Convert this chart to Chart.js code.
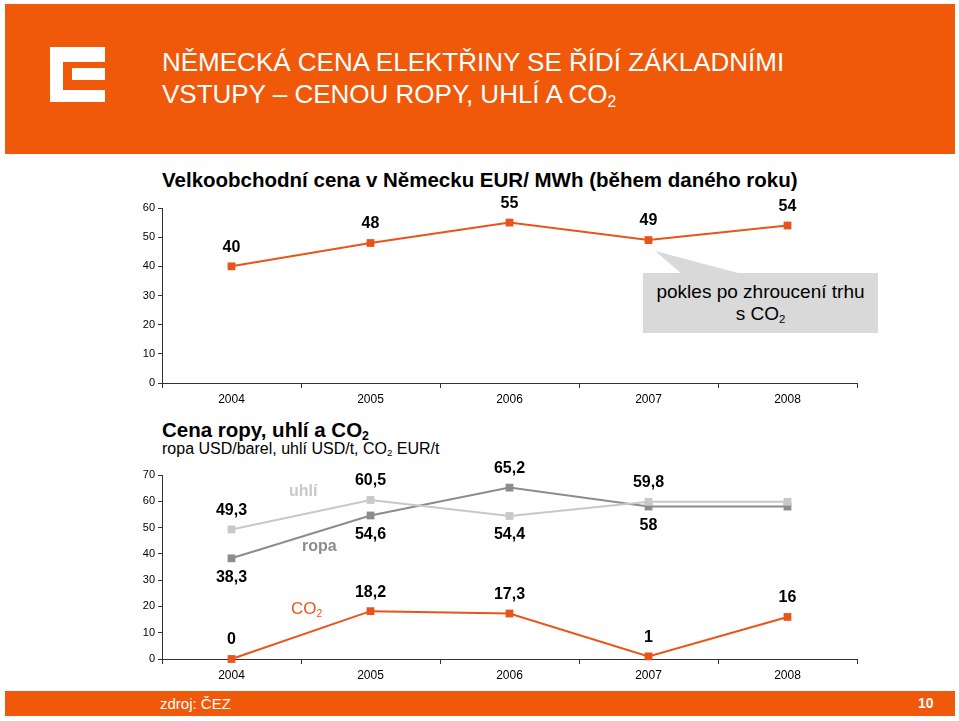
<!DOCTYPE html>
<html>
<head>
<meta charset="utf-8">
<script src="https://cdn.jsdelivr.net/npm/chart.js"></script>
<style>
  body { margin: 0; background: #fff; font-family: "Liberation Sans", Arial, sans-serif; }
  #page { position: relative; width: 959px; height: 721px; overflow: hidden; }
  .abs { position: absolute; white-space: nowrap; }
  .band { position: absolute; background: #F0580A; }
  .head { color: #fff; font-size: 26px; line-height: 32px; left: 162px; top: 46px; }
  .ctitle { font-weight: bold; font-size: 20.5px; line-height: 24px; color: #000; }
  sub { font-size: 60%; vertical-align: -0.25em; line-height: 0; }
  canvas { position: absolute; }
</style>
</head>
<body>
<div id="page">
  <!-- hlavicka -->
  <div class="band" style="left:5px; top:4px; width:950px; height:150px;"></div>
  <svg class="abs" style="left:0; top:0;" width="200" height="150">
    <rect x="50" y="47" width="55" height="55" fill="#fff"/>
    <rect x="63" y="62" width="42" height="28" fill="#F0580A"/>
    <rect x="72" y="68" width="33" height="12" fill="#fff"/>
  </svg>
  <div class="abs head">NĚMECKÁ CENA ELEKTŘINY SE ŘÍDÍ ZÁKLADNÍMI<br>VSTUPY – CENOU ROPY, UHLÍ A CO<sub>2</sub></div>

  <!-- graf 1 -->
  <div class="abs ctitle" style="left:162px; top:168px;">Velkoobchodní cena v Německu EUR/ MWh (během daného roku)</div>
  <canvas id="priceChart" width="770" height="225" style="left:100px; top:190px;"></canvas>

  <!-- bublina -->
  <svg class="abs" style="left:0; top:0;" width="959" height="400">
    <polygon points="655,251 682,274 742,274" fill="#D9D9D9"/>
    <rect x="643" y="273" width="235" height="60" fill="#D9D9D9"/>
  </svg>
  <div class="abs" style="left:643px; top:281px; width:235px; text-align:center; font-size:19px; line-height:22px; color:#000;">pokles po zhroucení trhu<br>s CO<sub>2</sub></div>

  <!-- graf 2 -->
  <div class="abs ctitle" style="left:162px; top:418px;">Cena ropy, uhlí a CO<sub>2</sub></div>
  <div class="abs" style="left:162px; top:440px; font-size:16px; line-height:18px;">ropa USD/barel, uhlí USD/t, CO<sub>2</sub> EUR/t</div>
  <canvas id="fuelChart" width="770" height="234" style="left:100px; top:455px;"></canvas>
  <div class="abs" style="left:289px; top:482px; font-weight:bold; font-size:16px; color:#C8C8C8;">uhlí</div>
  <div class="abs" style="left:302px; top:537px; font-weight:bold; font-size:16px; color:#8C8C8C;">ropa</div>
  <div class="abs" style="left:291px; top:599px; font-size:17px; color:#E9541B;">CO<sub>2</sub></div>

  <!-- paticka -->
  <div class="band" style="left:5px; top:691px; width:950px; height:25px;"></div>
  <div class="abs" style="left:160px; top:695px; color:#fff; font-size:15px;">zdroj: ČEZ</div>
  <div class="abs" style="left:918px; top:695px; color:#fff; font-size:14px; font-weight:bold;">10</div>
</div>

<script>
// data
const years = ['2004', '2005', '2006', '2007', '2008'];
const wholesalePrice = [40, 48, 55, 49, 54];
const coalPrice = [49.3, 60.5, 54.4, 59.8, 59.8];
const oilPrice = [38.3, 54.6, 65.2, 58, 58];
const co2Price = [0, 18.2, 17.3, 1, 16];

// kde stoji popisky hodnot (nad / pod bodem)
const priceLabelPos = ['above', 'above', 'above', 'above', 'above'];
const coalLabelPos = ['above', 'above', 'below', 'above', null];
const oilLabelPos = ['below', 'below', 'above', 'below', null];
const co2LabelPos = ['above', 'above', 'above', 'above', 'above'];

const FONT = '"Liberation Sans", Arial, sans-serif';
const ORANGE = '#E9541B';

// vlastni plugin na popisky hodnot
const valueLabels = {
  id: 'valueLabels',
  afterDatasetsDraw(chart) {
    const ctx = chart.ctx;
    ctx.save();
    ctx.font = 'bold 16px ' + FONT;
    ctx.fillStyle = '#000';
    ctx.textAlign = 'center';
    ctx.textBaseline = 'middle';
    chart.data.datasets.forEach((ds, di) => {
      const pos = ds.labelPos;
      chart.getDatasetMeta(di).data.forEach((pt, i) => {
        if (!pos || !pos[i]) return;
        const dy = pos[i] === 'above' ? -19 : 19;
        ctx.fillText(String(ds.data[i]).replace('.', ','), pt.x, pt.y + dy);
      });
    });
    ctx.restore();
  }
};

function lineSet(data, color, labelPos) {
  return {
    data: data,
    labelPos: labelPos,
    borderColor: color,
    backgroundColor: color,
    borderWidth: 2,
    pointStyle: 'rect',
    pointRadius: 5.5,
    pointBorderWidth: 0,
    tension: 0,
    clip: false
  };
}

function makeOptions(maxY, xHeight, padTop) {
  return {
    responsive: false,
    animation: false,
    layout: { padding: { top: padTop, right: 13, left: 0, bottom: 0 } },
    plugins: { legend: { display: false }, tooltip: { enabled: false } },
    scales: {
      x: {
        offset: true,
        grid: { offset: true, drawOnChartArea: false, tickLength: 5, color: '#333' },
        border: { color: '#333' },
        ticks: { color: '#000', font: { size: 12, family: FONT }, padding: 4 },
        afterFit: (s) => { s.height = xHeight; }
      },
      y: {
        min: 0,
        max: maxY,
        grid: { drawOnChartArea: false, tickLength: 4, color: '#333' },
        border: { color: '#333' },
        ticks: { stepSize: 10, color: '#000', font: { size: 11, family: FONT }, padding: 3 },
        afterFit: (s) => { s.width = 62; }
      }
    }
  };
}

new Chart(document.getElementById('priceChart').getContext('2d'), {
  type: 'line',
  data: {
    labels: years,
    datasets: [lineSet(wholesalePrice, ORANGE, priceLabelPos)]
  },
  options: makeOptions(60, 32, 18),
  plugins: [valueLabels]
});

new Chart(document.getElementById('fuelChart').getContext('2d'), {
  type: 'line',
  data: {
    labels: years,
    datasets: [
      lineSet(coalPrice, '#C8C8C8', coalLabelPos),
      lineSet(oilPrice, '#8C8C8C', oilLabelPos),
      lineSet(co2Price, ORANGE, co2LabelPos)
    ]
  },
  options: makeOptions(70, 30, 20),
  plugins: [valueLabels]
});
</script>
</body>
</html>
